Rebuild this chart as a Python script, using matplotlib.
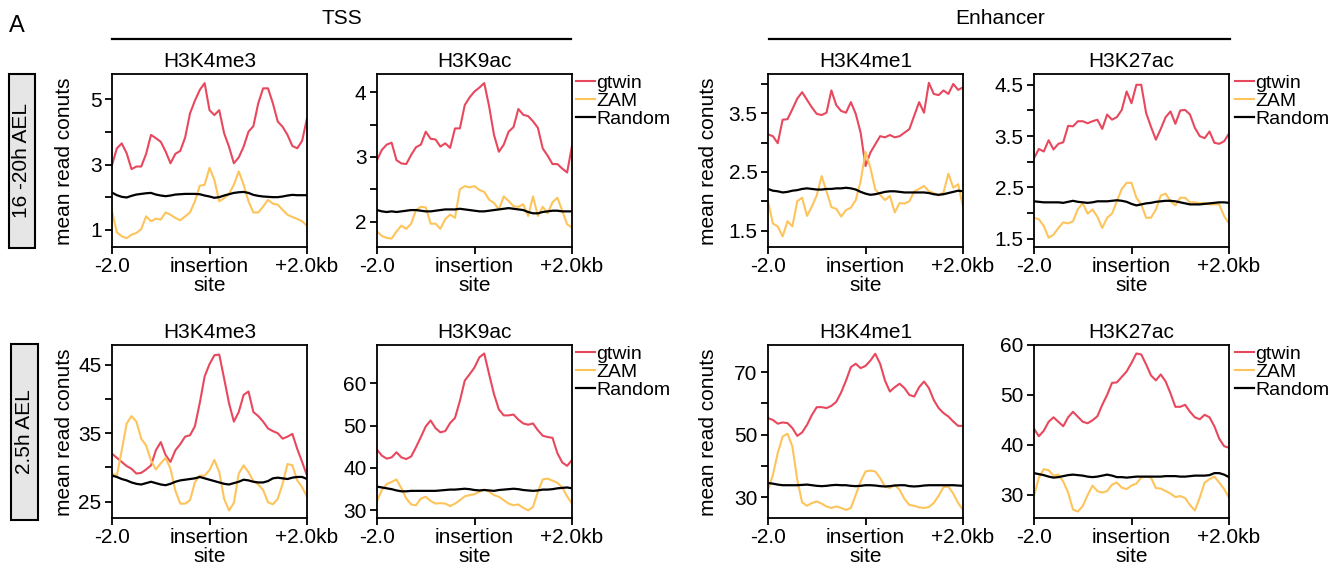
import matplotlib
matplotlib.use("Agg")
import matplotlib.pyplot as plt
import numpy as np
from matplotlib.patches import Rectangle
from matplotlib.lines import Line2D

plt.rcParams['font.family'] = ['Liberation Sans', 'DejaVu Sans']

# ---------------- data ----------------
x_kb = np.linspace(-2.0, 2.0, 41)

series_names = ["gtwin", "ZAM", "Random"]
series_colors = ["#e8485e", "#fec45c", "#000000"]
row_labels = ["16 -20h AEL", "2.5h AEL"]
group_labels = ["TSS", "Enhancer"]
mark_names = ["H3K4me3", "H3K9ac", "H3K4me1", "H3K27ac"]
xtick_values = [-2.0, 0.0, 2.0]
xtick_labels = ["-2.0", "insertion\nsite", "+2.0kb"]
ylabel_text = "mean read conuts"

# row 1 (16-20h AEL)
r1_k4me3_gtwin = [2.99,3.50,3.65,3.35,2.86,2.94,2.94,3.33,3.91,3.81,3.70,3.40,3.04,3.33,3.42,3.83,4.57,4.96,5.29,5.50,4.67,4.52,4.67,3.96,3.55,3.04,3.22,3.55,4.01,4.18,4.88,5.34,5.34,4.88,4.32,4.16,3.91,3.57,3.50,3.73,4.42]
r1_k4me3_zam = [1.56,0.92,0.80,0.74,0.85,0.90,1.02,1.41,1.26,1.34,1.31,1.53,1.46,1.36,1.29,1.41,1.53,1.87,2.35,2.38,2.90,2.53,1.87,1.97,2.10,2.38,2.79,2.38,1.87,1.53,1.53,1.71,1.92,1.80,1.77,1.61,1.46,1.39,1.33,1.26,1.12]
r1_k4me3_rand = [2.14,2.06,2.01,1.99,2.04,2.08,2.10,2.12,2.13,2.08,2.05,2.03,2.05,2.08,2.09,2.10,2.10,2.10,2.09,2.05,2.02,1.98,2.00,2.05,2.09,2.13,2.15,2.16,2.13,2.07,2.04,2.02,2.01,2.00,2.00,2.02,2.05,2.07,2.06,2.06,2.06]

r1_k9ac_gtwin = [2.95,3.11,3.19,3.22,2.95,2.90,2.89,3.03,3.15,3.19,3.39,3.28,3.27,3.16,3.21,3.14,3.44,3.44,3.80,3.92,4.01,4.07,4.14,3.78,3.34,3.08,3.19,3.39,3.46,3.74,3.65,3.63,3.55,3.45,3.13,3.02,2.89,2.89,2.82,2.76,3.17]
r1_k9ac_zam = [1.85,1.78,1.75,1.74,1.85,1.94,1.89,1.97,2.18,2.23,2.22,1.97,1.97,1.89,2.04,2.11,2.06,2.50,2.55,2.53,2.55,2.49,2.46,2.34,2.29,2.19,2.39,2.32,2.24,2.23,2.27,2.09,2.39,2.09,2.23,2.13,2.30,2.37,2.17,1.96,1.91]
r1_k9ac_rand = [2.18,2.16,2.15,2.16,2.15,2.16,2.17,2.18,2.18,2.17,2.16,2.16,2.17,2.18,2.19,2.19,2.19,2.20,2.19,2.18,2.17,2.16,2.16,2.17,2.18,2.19,2.20,2.21,2.20,2.19,2.18,2.15,2.13,2.13,2.15,2.16,2.17,2.17,2.16,2.16,2.16]

r1_k4me1_gtwin = [3.14,3.11,2.99,3.39,3.40,3.57,3.75,3.86,3.73,3.60,3.49,3.47,3.51,3.89,3.64,3.54,3.51,3.69,3.49,3.17,2.60,2.83,2.97,3.11,3.09,3.13,3.09,3.11,3.17,3.23,3.46,3.69,3.51,4.02,3.83,3.81,3.89,3.83,4.00,3.90,3.94]
r1_k4me1_zam = [2.00,1.62,1.57,1.40,1.66,1.57,2.00,2.06,1.75,1.91,2.10,2.43,2.17,1.90,1.87,1.74,1.85,1.89,2.02,2.34,2.84,2.57,2.20,2.11,2.02,2.09,1.81,1.97,1.96,2.00,2.17,2.21,2.26,2.17,2.14,2.10,2.15,2.47,2.23,2.29,1.91]
r1_k4me1_rand = [2.21,2.18,2.17,2.15,2.16,2.18,2.19,2.21,2.22,2.21,2.20,2.20,2.21,2.21,2.22,2.22,2.23,2.22,2.20,2.16,2.13,2.11,2.12,2.14,2.16,2.17,2.17,2.16,2.15,2.15,2.15,2.15,2.15,2.14,2.12,2.11,2.12,2.14,2.16,2.18,2.17]

r1_k27ac_gtwin = [3.07,3.25,3.20,3.42,3.24,3.35,3.38,3.70,3.69,3.79,3.79,3.75,3.79,3.82,3.64,3.92,3.82,3.87,4.01,4.37,4.14,4.50,4.50,3.95,3.68,3.43,3.64,3.87,3.98,3.74,4.00,4.01,3.92,3.66,3.50,3.46,3.59,3.37,3.35,3.40,3.55]
r1_k27ac_zam = [1.91,1.88,1.75,1.52,1.58,1.71,1.82,1.80,1.84,2.08,2.19,1.99,2.07,1.93,1.71,1.91,1.99,2.23,2.47,2.59,2.59,2.30,2.17,1.91,1.91,2.07,2.34,2.38,2.23,2.15,2.30,2.30,2.21,2.21,2.19,2.20,2.17,2.17,2.17,1.94,1.80]
r1_k27ac_rand = [2.23,2.22,2.21,2.21,2.21,2.21,2.20,2.22,2.24,2.22,2.21,2.20,2.21,2.23,2.23,2.23,2.24,2.25,2.24,2.22,2.18,2.15,2.17,2.19,2.20,2.22,2.23,2.24,2.24,2.23,2.21,2.19,2.17,2.17,2.17,2.18,2.19,2.20,2.21,2.21,2.20]

# row 2 (2.5h AEL)
r2_k4me3_gtwin = [32.0,31.4,30.8,30.2,29.8,29.1,29.2,29.7,30.3,32.5,33.7,31.8,30.8,32.5,33.4,34.5,34.7,36.0,39.4,43.3,45.1,46.4,46.5,43.0,39.4,36.7,38.1,40.6,41.1,38.1,37.5,36.7,35.7,35.3,35.0,34.2,34.5,34.9,32.7,30.8,28.8]
r2_k4me3_zam = [29.1,28.8,32.5,36.4,37.5,36.7,34.2,33.2,31.0,29.7,30.6,31.4,29.8,26.6,24.7,24.7,25.2,27.8,28.8,28.8,29.6,31.1,29.3,25.4,23.7,24.8,29.1,30.3,29.3,28.0,27.5,26.7,24.9,24.6,25.4,27.6,30.5,30.3,28.1,27.1,25.7]
r2_k4me3_rand = [28.8,28.6,28.3,28.1,27.8,27.6,27.5,27.7,27.9,27.7,27.5,27.4,27.6,27.9,28.1,28.2,28.3,28.4,28.6,28.4,28.2,28.0,27.8,27.6,27.5,27.7,27.9,28.2,28.1,27.9,27.8,27.8,28.0,28.4,28.5,28.4,28.3,28.5,28.6,28.6,28.3]

r2_k9ac_gtwin = [44.3,42.9,42.2,42.5,43.7,42.5,42.1,42.7,44.9,47.3,49.8,51.2,49.4,48.4,48.7,50.6,51.8,55.8,60.6,62.1,63.7,66.1,67.0,62.1,57.4,53.8,52.4,52.4,52.6,51.4,50.5,50.2,50.5,48.9,47.6,47.3,47.1,43.5,41.3,40.5,41.9]
r2_k9ac_zam = [32.2,34.8,36.2,36.7,37.3,35.2,32.8,31.4,31.2,32.8,33.2,32.2,31.6,31.7,31.6,31.0,31.6,32.4,33.3,33.6,33.8,34.4,34.9,34.4,33.6,33.2,32.4,31.6,31.2,31.4,30.6,30.0,30.8,34.4,37.3,37.5,37.0,36.5,35.4,33.3,31.6]
r2_k9ac_rand = [35.6,35.4,35.2,35.0,34.7,34.5,34.5,34.6,34.6,34.6,34.6,34.6,34.6,34.7,34.8,34.9,34.9,35.0,35.1,35.0,34.8,34.7,34.8,34.7,34.6,34.8,34.9,35.0,35.1,35.0,34.8,34.7,34.6,34.7,34.9,34.9,35.0,35.2,35.3,35.4,35.2]

r2_k4me1_gtwin = [55.3,54.7,53.5,53.9,53.7,52.1,49.6,50.7,53.1,56.3,58.8,58.8,58.5,59.2,60.5,63.5,67.3,71.6,72.7,71.3,72.0,73.7,75.9,72.7,67.3,63.8,65.2,66.3,64.9,62.7,62.2,65.2,67.0,64.9,61.1,58.5,56.9,55.8,54.2,52.8,52.8]
r2_k4me1_zam = [32.3,37.1,44.1,49.4,50.3,46.2,35.5,28.3,27.2,28.1,28.6,27.9,27.0,26.5,27.0,26.5,25.9,26.5,30.7,35.0,38.2,38.5,38.2,36.1,33.4,32.9,33.9,32.3,29.4,27.5,27.2,26.7,26.5,26.8,28.1,30.4,33.2,33.4,31.1,28.1,25.9]
r2_k4me1_rand = [34.5,34.3,34.0,33.8,33.8,33.8,33.8,33.9,34.0,33.8,33.6,33.5,33.6,33.8,33.9,33.8,33.8,33.6,33.5,33.6,33.8,33.8,33.7,33.5,33.4,33.5,33.7,33.8,33.8,33.5,33.4,33.5,33.7,33.8,33.8,33.8,33.8,33.8,33.8,33.7,33.6]

r2_k27ac_gtwin = [43.2,41.7,42.8,44.6,45.5,44.6,43.7,45.5,46.6,45.6,44.6,44.3,44.9,45.7,48.0,50.0,52.4,52.5,53.6,54.7,56.4,58.3,58.1,56.1,53.9,52.9,54.1,52.7,50.3,47.6,47.6,48.0,46.6,45.5,45.1,46.0,45.5,43.7,41.2,39.7,39.4]
r2_k27ac_zam = [29.7,33.4,35.1,34.9,33.8,34.0,32.6,30.4,27.0,26.6,27.7,29.9,31.8,30.7,30.4,30.7,32.0,32.4,31.4,31.1,31.8,32.2,33.4,33.6,33.4,31.3,31.2,30.7,30.2,29.5,29.7,29.3,27.9,26.8,29.4,32.4,33.1,33.6,32.4,31.1,29.4]
r2_k27ac_rand = [34.3,34.1,33.9,33.6,33.4,33.5,33.7,33.9,34.0,33.9,33.8,33.6,33.5,33.6,33.8,34.0,33.8,33.5,33.5,33.4,33.5,33.6,33.6,33.6,33.6,33.6,33.6,33.7,33.7,33.7,33.6,33.6,33.7,33.8,33.8,33.8,33.9,34.3,34.3,34.0,33.5]

panel_series = [
    [(r1_k4me3_gtwin, r1_k4me3_zam, r1_k4me3_rand),
     (r1_k9ac_gtwin, r1_k9ac_zam, r1_k9ac_rand),
     (r1_k4me1_gtwin, r1_k4me1_zam, r1_k4me1_rand),
     (r1_k27ac_gtwin, r1_k27ac_zam, r1_k27ac_rand)],
    [(r2_k4me3_gtwin, r2_k4me3_zam, r2_k4me3_rand),
     (r2_k9ac_gtwin, r2_k9ac_zam, r2_k9ac_rand),
     (r2_k4me1_gtwin, r2_k4me1_zam, r2_k4me1_rand),
     (r2_k27ac_gtwin, r2_k27ac_zam, r2_k27ac_rand)],
]

# axis scales
ylims = [[(0.47, 5.78), (1.61, 4.28), (1.22, 4.17), (1.34, 4.71)],
         [(22.6, 47.9), (28.2, 69.0), (23.3, 78.7), (25.3, 60.0)]]
ymajor = [[[1, 3, 5], [2, 3, 4], [1.5, 2.5, 3.5], [1.5, 2.5, 3.5, 4.5]],
          [[25, 35, 45], [30, 40, 50, 60], [30, 50, 70], [30, 40, 50, 60]]]
yminor = [[[2, 4], [2.5, 3.5], [2, 3, 4], [2, 3, 4]],
          [[30, 40], [], [40, 60], []]]

# ---------------- layout (pixels) ----------------
W, H = 1336, 571
fig = plt.figure(figsize=(W / 100, H / 100), dpi=100)

def fx(px):
    return px / W

def fy(py):
    return 1 - py / H

col_left = [112, 377, 768, 1034]
ax_w = 195
row_top = [74, 345]
ax_h = 173
FS = 15
LFS = 14

for r in range(2):
    for c in range(4):
        ax = fig.add_axes([fx(col_left[c]), fy(row_top[r] + ax_h), ax_w / W, ax_h / H])
        g, z, rd = panel_series[r][c]
        ax.plot(x_kb, g, color=series_colors[0], lw=1.5, label=series_names[0])
        ax.plot(x_kb, z, color=series_colors[1], lw=1.5, label=series_names[1])
        ax.plot(x_kb, rd, color=series_colors[2], lw=1.6, label=series_names[2])
        ax.set_xlim(-2, 2)
        ax.set_ylim(*ylims[r][c])
        ax.set_xticks(xtick_values)
        ax.set_xticklabels(xtick_labels, fontsize=FS, linespacing=0.95)
        ax.set_yticks(ymajor[r][c])
        ax.set_yticklabels([f"{v:g}" for v in ymajor[r][c]], fontsize=FS)
        ax.set_yticks(yminor[r][c], minor=True)
        ax.tick_params(axis='both', which='both', direction='out', length=5, width=1.3, pad=2.5)
        ax.tick_params(axis='y', which='minor', length=5, width=1.3)
        for s in ax.spines.values():
            s.set_linewidth(1.3)
        ax.set_title(mark_names[c], fontsize=FS, pad=5)
        if c in (1, 3):
            off = 4 if c == 1 else 6
            leg = ax.legend(loc='upper left', bbox_to_anchor=(1.0 + off / ax_w, 1.0),
                            frameon=False, fontsize=LFS, handlelength=1.0,
                            handletextpad=0.05, borderpad=0, borderaxespad=0,
                            labelspacing=0.02)

# y labels
for r, yc in enumerate([161, 432]):
    for xc in (64, 708):
        fig.text(fx(xc), fy(yc), ylabel_text, rotation=90, ha='center', va='center', fontsize=FS)

# row label boxes
boxes = [(9, 74, 25.5, 174), (11, 344, 26.5, 176)]
for (bx, by, bw, bh), lab in zip(boxes, row_labels):
    rect = Rectangle((fx(bx), fy(by + bh)), bw / W, bh / H, transform=fig.transFigure,
                     facecolor='#e6e6e6', edgecolor='black', lw=1.5)
    fig.add_artist(rect)
    fig.text(fx(bx + bw / 2), fy(by + bh / 2), lab, rotation=90, ha='center', va='center', fontsize=FS)

# group headers
fig.text(fx(342), fy(18), group_labels[0], ha='center', va='center', fontsize=FS)
fig.text(fx(1000), fy(18), group_labels[1], ha='center', va='center', fontsize=FS)
fig.add_artist(Line2D([fx(112), fx(571)], [fy(39), fy(39)], color='black', lw=1.6, transform=fig.transFigure))
fig.add_artist(Line2D([fx(769), fx(1230)], [fy(39), fy(39)], color='black', lw=1.6, transform=fig.transFigure))

fig.text(fx(9), fy(32), "A", ha='left', va='baseline', fontsize=17)

fig.savefig("out.png", dpi=100)
